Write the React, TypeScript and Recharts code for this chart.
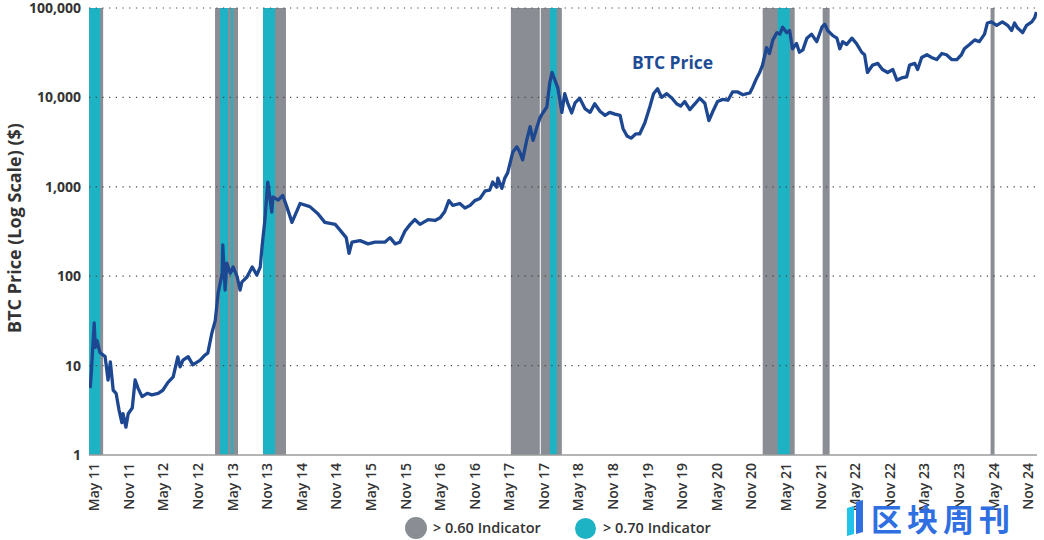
import {
  ComposedChart,
  Label,
  Line,
  ReferenceArea,
  ReferenceLine,
  XAxis,
  YAxis,
} from "recharts";

const FONT = '"Open Sans", "Noto Sans", sans-serif';
const GRAY = "#8a8e94";
const TEAL = "#1eb3c4";
const NAVY = "#1d4891";

// x = months, the "May 11" tick is 0, every tick is 6 further on
const xTickLabels = [
  "May 11", "Nov 11", "May 12", "Nov 12", "May 13", "Nov 13", "May 14",
  "Nov 14", "May 15", "Nov 15", "May 16", "Nov 16", "May 17", "Nov 17",
  "May 18", "Nov 18", "May 19", "Nov 19", "May 20", "Nov 20", "May 21",
  "Nov 21", "May 22", "Nov 22", "May 23", "Nov 23", "May 24", "Nov 24",
];
const xTicks = xTickLabels.map((_, i) => i * 6);
const yTicks = [1, 10, 100, 1000, 10000, 100000];

const price2011to13: [number, number][] = [
  [-0.6, 5.6], [-0.4, 8.3], [0.1, 30], [0.3, 16], [0.6, 19], [1.1, 14], [2.0, 12.6],
  [2.5, 6.9], [2.9, 11], [3.4, 5.3], [3.9, 4.9], [4.4, 3.2], [4.9, 2.3], [5.1, 2.9],
  [5.6, 2.05], [6.0, 2.9], [6.7, 3.35], [7.2, 6.9], [7.7, 5.6], [8.4, 4.5], [9.3, 4.9],
  [10.1, 4.7], [11.2, 4.9], [12.0, 5.3], [12.9, 6.5], [13.8, 7.5], [14.6, 12.5],
  [15.0, 9.7], [15.5, 11.5], [16.4, 12.6], [17.2, 10.2], [18.5, 11.5], [19.3, 13.1],
  [19.8, 13.8], [20.5, 23], [21.1, 32], [21.6, 65], [22.3, 108], [22.4, 224], [22.8, 70],
  [23.1, 140], [23.7, 108], [24.2, 127], [24.9, 98], [25.4, 70], [25.7, 86], [26.6, 98],
  [27.5, 127], [28.3, 103], [28.9, 127], [29.2, 212], [29.7, 425], [30.2, 1130],
  [30.9, 520], [31.1, 770], [32.0, 710],
];

const price2014to17: [number, number][] = [
  [32.8, 800], [33.5, 600], [34.4, 400], [35.8, 650], [37.5, 600], [38.9, 500],
  [40.1, 400], [41.9, 380], [42.7, 330], [43.8, 270], [44.3, 180], [44.8, 240],
  [46.2, 250], [47.6, 230], [48.8, 240], [50.5, 240], [51.4, 270], [52.3, 230],
  [53.1, 240], [54.0, 320], [54.9, 380], [55.7, 430], [56.6, 380], [58.0, 430],
  [59.2, 420], [60.1, 450], [60.9, 530], [61.6, 700], [62.3, 620], [63.5, 650],
  [64.4, 580], [65.3, 620], [66.1, 700], [67.0, 740], [67.9, 900], [68.7, 920],
  [69.2, 1130], [69.9, 990], [70.1, 1250], [70.8, 960], [71.3, 1250], [71.8, 1430],
  [72.7, 2450], [73.4, 2800], [73.9, 2450], [74.4, 2000], [75.1, 3300], [75.7, 4700],
  [76.2, 3300], [76.9, 4700], [77.4, 5900], [77.9, 6700], [78.6, 7800], [79.1, 14500],
  [79.5, 19000], [80.0, 15600], [80.5, 12800], [81.2, 6800], [81.7, 11000],
  [82.2, 8700], [82.9, 6700], [83.5, 8700], [84.3, 9800],
];

const price2018to21: [number, number][] = [
  [85.2, 7500], [86.1, 6800], [86.9, 8500], [87.8, 7000], [88.7, 6300], [89.5, 6800],
  [90.4, 6500], [91.3, 6300], [91.8, 4500], [92.5, 3700], [93.2, 3500], [94.0, 3900],
  [94.7, 3900], [95.6, 5200], [96.5, 8000], [97.1, 11000], [97.8, 12500], [98.5, 10000],
  [99.4, 11000], [100.3, 9800], [101.1, 8500], [101.8, 8000], [102.5, 9000],
  [103.4, 7300], [104.3, 8500], [105.1, 9800], [106.0, 8600], [106.7, 5500],
  [107.4, 7000], [108.2, 9000], [109.1, 9500], [110.0, 9300], [110.8, 11500],
  [111.7, 11500], [112.6, 10700], [113.3, 11000], [113.8, 11200], [114.3, 13000],
  [115.0, 16500], [115.5, 19000], [116.0, 23000], [116.7, 36000], [117.2, 31000],
  [117.8, 44000], [118.5, 53000], [119.0, 51000], [119.5, 61000], [120.2, 53000],
  [120.7, 56000], [121.2, 35000], [121.9, 40000], [122.4, 32000], [123.0, 34000],
  [123.7, 46000], [124.5, 51000], [125.4, 42000], [126.3, 61000], [126.8, 66000],
  [127.3, 56000], [128.2, 49000], [128.9, 46000],
];

const price2022to24: [number, number][] = [
  [129.4, 35000], [129.9, 42000], [130.6, 39000], [131.5, 46000], [132.3, 40000],
  [133.2, 32000], [133.7, 30000], [134.2, 19000], [135.1, 23000], [136.0, 24000],
  [136.8, 20500], [137.7, 19000], [138.6, 20500], [139.3, 15600], [140.1, 16500],
  [141.0, 17000], [141.5, 23000], [142.4, 24000], [142.9, 20500], [143.6, 28000],
  [144.5, 30000], [145.3, 28000], [146.2, 26500], [147.1, 31000], [147.9, 30000],
  [148.8, 26500], [149.7, 26500], [150.5, 30000], [151.0, 35000], [151.9, 39000],
  [152.8, 44000], [153.6, 42000], [154.5, 51000], [155.0, 68000], [155.7, 70000],
  [156.6, 64000], [157.6, 70000], [158.5, 64000], [159.2, 56000], [159.7, 68000],
  [160.2, 60000], [161.1, 53000], [161.8, 64000], [162.7, 70000], [163.2, 78000],
  [163.5, 90000],
];

// spans where the indicator was above 0.60 / 0.70
const above060: [number, number][] = [
  [-0.78, 1.65],
  [21.06, 25.04],
  [29.38, 33.36],
  [72.36, 77.38],
  [77.55, 81.2],
  [116.03, 121.58],
  [126.43, 127.64],
  [155.55, 156.24],
];
const above070: [number, number][] = [
  [-0.78, 1.15],
  [21.92, 23.31], [23.83, 24.18],
  [29.38, 31.46],
  [79.12, 80.33],
  [118.63, 120.71],
];

const priceData = [...price2011to13, ...price2014to17, ...price2018to21, ...price2022to24].map(
  ([t, price]) => ({ t, price })
);

function MonthTick(props: any) {
  const { x, y, payload } = props;
  const label = xTickLabels[Math.round(payload.value / 6)];
  return (
    <text
      x={x}
      y={y}
      transform={`rotate(-90 ${x} ${y})`}
      textAnchor="end"
      dominantBaseline="central"
      fill="#333"
      fontSize={14}
      fontWeight={600}
      fontFamily={FONT}
    >
      {label}
    </text>
  );
}

const legendText = {
  position: "absolute" as const,
  top: 518,
  fontSize: 14.5,
  fontWeight: 600,
  color: "#333",
  lineHeight: "20px",
  whiteSpace: "nowrap" as const,
};

export default function App() {
  return (
    <div
      style={{
        position: "absolute",
        left: 0,
        top: 0,
        width: 1044,
        height: 540,
        background: "#fff",
        fontFamily: FONT,
        overflow: "hidden",
      }}
    >
      <ComposedChart
        width={1044}
        height={540}
        data={priceData}
        margin={{ top: 8, right: 7, bottom: 0, left: 0 }}
      >
        {above060.map(([a, b], i) => (
          <ReferenceArea key={`g${i}`} x1={a} x2={b} fill={GRAY} fillOpacity={1} stroke="none" />
        ))}
        {above070.map(([a, b], i) => (
          <ReferenceArea key={`t${i}`} x1={a} x2={b} fill={TEAL} fillOpacity={1} stroke="none" />
        ))}
        {yTicks.slice(1).map((v) => (
          <ReferenceLine key={v} y={v} stroke="#444" strokeWidth={1.2} strokeDasharray="1.2 5.5" />
        ))}
        <XAxis
          type="number"
          dataKey="t"
          domain={[-0.8, 163.6]}
          ticks={xTicks}
          interval={0}
          height={85}
          tick={<MonthTick />}
          tickLine={false}
          axisLine={{ stroke: "#9b9b9b", strokeWidth: 1.5 }}
          allowDataOverflow
        />
        <YAxis
          scale="log"
          domain={[1, 100000]}
          ticks={yTicks}
          width={89}
          tickLine={false}
          axisLine={false}
          allowDataOverflow
          tickFormatter={(v: number) => v.toLocaleString("en-US")}
          tick={{ fill: "#333", fontSize: 14, fontWeight: 700, fontFamily: FONT }}
        >
          <Label
            content={() => (
              <text
                x={14}
                y={228}
                transform="rotate(-90 14 228)"
                textAnchor="middle"
                dominantBaseline="central"
                fill="#333"
                fontSize={18}
                fontWeight={700}
                fontFamily={FONT}
              >
                BTC Price (Log Scale) ($)
              </text>
            )}
          />
        </YAxis>
        <Line
          type="linear"
          dataKey="price"
          stroke={NAVY}
          strokeWidth={3.3}
          strokeLinejoin="round"
          dot={false}
          activeDot={false}
          isAnimationActive={false}
        />
      </ComposedChart>

      <div
        style={{
          position: "absolute",
          left: 632,
          top: 50,
          color: "#1e4c94",
          fontSize: 17.5,
          fontWeight: 700,
          whiteSpace: "nowrap",
        }}
      >
        BTC Price
      </div>

      <span
        style={{ position: "absolute", left: 405, top: 517, width: 22, height: 22, borderRadius: 11, background: GRAY }}
      />
      <span style={{ ...legendText, left: 433 }}>&gt; 0.60 Indicator</span>
      <span
        style={{ position: "absolute", left: 575, top: 518, width: 21, height: 21, borderRadius: 11, background: TEAL }}
      />
      <span style={{ ...legendText, left: 603 }}>&gt; 0.70 Indicator</span>

      <div
        style={{
          position: "absolute",
          left: 845,
          top: 499,
          height: 38,
          display: "flex",
          alignItems: "center",
          whiteSpace: "nowrap",
        }}
      >
        <svg width={24} height={38} style={{ marginRight: 2 }}>
          <polygon points="2,9 9,7 9,35 2,37" fill="#22c3ea" />
          <polygon points="11,3 18,1 18,33 11,35" fill="#2f6fe2" />
        </svg>
        <span
          style={{
            fontFamily: '"Noto Sans CJK SC", sans-serif',
            fontSize: 31,
            lineHeight: "34px",
            fontWeight: 700,
            color: "#2f6fe2",
            letterSpacing: 5,
          }}
        >
          区块周刊
        </span>
      </div>
    </div>
  );
}
